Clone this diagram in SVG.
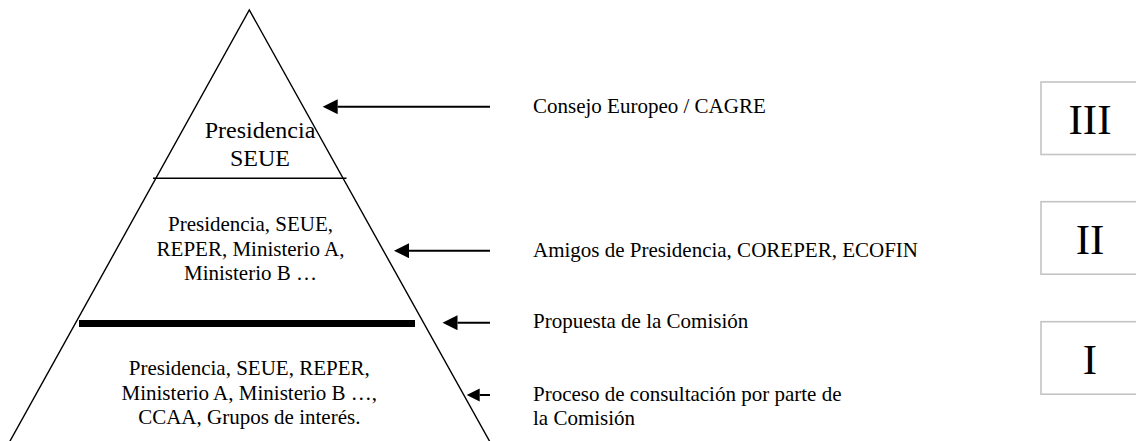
<svg xmlns="http://www.w3.org/2000/svg" width="1136" height="441" viewBox="0 0 1136 441">
  <style>
    .t { font-family: "Liberation Serif", "Times New Roman", serif; fill: #000; }
    .c { text-anchor: middle; }
    .s21 { font-size: 21px; }
    .s24 { font-size: 24px; }
    .num { font-size: 43px; text-anchor: middle; }
    .edge { fill: none; stroke: #000; stroke-width: 1.4; }
    .arr { fill: none; stroke: #000; stroke-width: 2; }
    .box { fill: #fff; stroke: #c4c4c4; stroke-width: 1.6; }
  </style>
  <defs>
    <marker id="ah" markerUnits="userSpaceOnUse" markerWidth="16" markerHeight="16" refX="0" refY="7.5" orient="auto" viewBox="0 0 16 16">
      <path d="M0,0 L15,7.5 L0,15 z" fill="#000"/>
    </marker>
    <marker id="ahs" markerUnits="userSpaceOnUse" markerWidth="16" markerHeight="16" refX="0" refY="6.5" orient="auto" viewBox="0 0 16 16">
      <path d="M0,0 L13,6.5 L0,13 z" fill="#000"/>
    </marker>
  </defs>

  <g id="pyramid">
    <polyline class="edge" points="9.5,442 249.3,10 490,442"/>
    <line class="edge" x1="153" y1="178.3" x2="346.5" y2="178.3"/>
    <rect x="79" y="320" width="336" height="7" fill="#000"/>
  </g>

  <g id="level3-node">
    <text class="t s24 c" x="260" y="137.5">Presidencia</text>
    <text class="t s24 c" x="260" y="166">SEUE</text>
  </g>

  <g id="level2-node">
    <text class="t s21 c" x="250.5" y="231">Presidencia, SEUE,</text>
    <text class="t s21 c" x="250.5" y="255.5">REPER, Ministerio A,</text>
    <text class="t s21 c" x="250.5" y="280">Ministerio B …</text>
  </g>

  <g id="level1-node">
    <text class="t s21 c" x="249.3" y="375">Presidencia, SEUE, REPER,</text>
    <text class="t s21 c" x="249.3" y="399.5">Ministerio A, Ministerio B …,</text>
    <text class="t s21 c" x="249.3" y="424">CCAA, Grupos de interés.</text>
  </g>

  <g id="connectors">
    <line class="arr" x1="490" y1="106.7" x2="337.7" y2="106.7" marker-end="url(#ah)"/>
    <line class="arr" x1="490" y1="250.7" x2="409" y2="250.7" marker-end="url(#ah)"/>
    <line class="arr" x1="490" y1="322.7" x2="457.5" y2="322.7" marker-end="url(#ah)"/>
    <line class="arr" x1="490" y1="395" x2="479.7" y2="395" marker-end="url(#ahs)"/>
  </g>

  <g id="label-consejo">
    <text class="t s21" x="533" y="112.5">Consejo Europeo / CAGRE</text>
  </g>
  <g id="label-amigos">
    <text class="t s21" x="533" y="256.5">Amigos de Presidencia, COREPER, ECOFIN</text>
  </g>
  <g id="label-propuesta">
    <text class="t s21" x="533" y="328">Propuesta de la Comisión</text>
  </g>
  <g id="label-proceso">
    <text class="t s21" x="533" y="400.5">Proceso de consultación por parte de</text>
    <text class="t s21" x="533" y="424.5">la Comisión</text>
  </g>

  <g id="box-III">
    <rect class="box" x="1041" y="82" width="110" height="72.5"/>
    <text class="t num" x="1090" y="133.5">III</text>
  </g>
  <g id="box-II">
    <rect class="box" x="1041" y="201.7" width="110" height="72.5"/>
    <text class="t num" x="1090" y="253.5">II</text>
  </g>
  <g id="box-I">
    <rect class="box" x="1041" y="321.7" width="110" height="72.5"/>
    <text class="t num" x="1090" y="373.5">I</text>
  </g>
</svg>
